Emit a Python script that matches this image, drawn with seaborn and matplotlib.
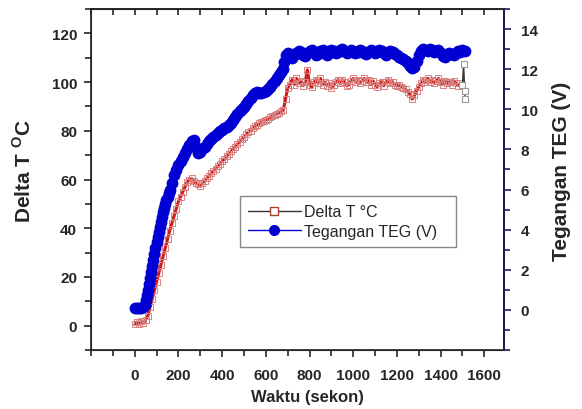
import numpy as np
import pandas as pd
import seaborn as sns
import matplotlib.ticker as mticker
from matplotlib import pyplot as plt
from matplotlib.lines import Line2D

sns.set_style("ticks")
plt.rcParams["font.family"] = ["Liberation Sans", "DejaVu Sans"]
plt.rcParams["font.weight"] = "bold"
plt.rcParams["mathtext.fontset"] = "custom"
plt.rcParams["mathtext.rm"] = "Liberation Sans"
plt.rcParams["mathtext.bf"] = "Liberation Sans:bold"

# data (every 10 s, every 5 s where the voltage climbs fast)
waktu_v = [0, 10, 20, 30, 40, 45, 50, 55, 60, 65, 70, 75, 80, 85, 90, 95, 100, 105, 110, 115,
           120, 125, 130, 135, 140, 145, 150, 155, 160, 170, 180, 190,
           200, 210, 220, 230, 240, 250, 260, 270, 280, 290, 300, 310, 320, 330, 340, 350, 360, 370,
           380, 390, 400, 410, 420, 430, 440, 450, 460, 470, 480, 490, 500, 510, 520, 530, 540, 550,
           560, 570, 580, 590, 600, 610, 620, 630, 640, 650, 660, 670, 680, 685, 690, 700, 710, 720, 730,
           740, 750, 760, 770, 780, 790, 800, 810, 820, 830, 840, 850, 860, 870, 880, 890, 900, 910,
           920, 930, 940, 950, 960, 970, 980, 990, 1000, 1010, 1020, 1030, 1040, 1050, 1060, 1070,
           1080, 1090, 1100, 1110, 1120, 1130, 1140, 1150, 1160, 1170, 1180, 1190, 1200, 1210, 1220,
           1230, 1240, 1250, 1260, 1270, 1280, 1290, 1300, 1310, 1320, 1330, 1340, 1350, 1360, 1370,
           1380, 1390, 1400, 1410, 1420, 1430, 1440, 1450, 1460, 1470, 1480, 1490, 1500, 1510]
tegangan = [0.1, 0.1, 0.1, 0.1, 0.15, 0.25, 0.5, 0.75, 1.0, 1.3, 1.6, 1.9, 2.2, 2.5, 2.8, 3.1, 3.4, 3.65, 3.9, 4.15,
            4.4, 4.65, 4.9, 5.1, 5.3, 5.5, 5.65, 5.85, 6.0, 6.35, 6.7, 6.95,
            7.2, 7.4, 7.6, 7.8, 8.0, 8.2, 8.4, 8.45, 8.1, 7.8, 7.85, 8.0, 8.1, 8.25, 8.4, 8.5, 8.6, 8.7,
            8.8, 8.9, 8.95, 9.05, 9.1, 9.2, 9.3, 9.45, 9.6, 9.75, 9.9, 10.0, 10.1, 10.25, 10.4, 10.55, 10.7, 10.8,
            10.85, 10.8, 10.8, 10.85, 10.9, 11.0, 11.1, 11.25, 11.4, 11.55, 11.7, 11.85, 12.0, 12.35, 12.7, 12.8, 12.6, 12.55, 12.7,
            12.8, 12.9, 12.85, 12.7, 12.65, 12.8, 12.9, 12.95, 12.85, 12.7, 12.75, 12.9, 12.95, 12.8, 12.7, 12.8, 12.95, 12.9,
            12.8, 12.85, 12.95, 13.0, 12.9, 12.8, 12.85, 12.95, 12.9, 12.8, 12.85, 12.95, 12.9, 12.8, 12.75, 12.85,
            12.95, 12.9, 12.8, 12.85, 12.95, 12.9, 12.8, 12.7, 12.8, 12.9, 12.85, 12.75, 12.7, 12.6, 12.55,
            12.5, 12.4, 12.3, 12.15, 12.05, 12.1, 12.4, 12.7, 12.9, 13.0, 12.95, 12.9, 13.0, 12.95, 12.85,
            12.9, 12.95, 12.8, 12.65, 12.6, 12.7, 12.8, 12.75, 12.7, 12.8, 12.9, 12.85, 12.95, 12.9]

waktu_t = [0, 10, 20, 30, 40, 50, 60, 70, 80, 90, 100, 110, 120, 130, 140, 150, 160, 170, 180, 190,
           200, 210, 220, 230, 240, 250, 260, 270, 280, 290, 300, 310, 320, 330, 340, 350, 360, 370,
           380, 390, 400, 410, 420, 430, 440, 450, 460, 470, 480, 490, 500, 510, 520, 530, 540, 550,
           560, 570, 580, 590, 600, 610, 620, 630, 640, 650, 660, 670, 680, 690, 700, 710, 720, 730,
           740, 750, 760, 770, 780, 790, 800, 810, 820, 830, 840, 850, 860, 870, 880, 890, 900, 910,
           920, 930, 940, 950, 960, 970, 980, 990, 1000, 1010, 1020, 1030, 1040, 1050, 1060, 1070,
           1080, 1090, 1100, 1110, 1120, 1130, 1140, 1150, 1160, 1170, 1180, 1190, 1200, 1210, 1220,
           1230, 1240, 1250, 1260, 1270, 1280, 1290, 1300, 1310, 1320, 1330, 1340, 1350, 1360, 1370,
           1380, 1390, 1400, 1410, 1420, 1430, 1440, 1450, 1460, 1470, 1480, 1490, 1500]
delta_t = [0.5, 1.5, 0.5, 2.0, 1.0, 2.5, 4, 7.5, 11, 14.5, 18, 21.5, 25, 28.5, 32, 35.5, 39, 42, 45, 48,
           51, 53, 55, 57, 59, 60, 60.5, 59.5, 58.5, 58, 57.5, 58.5, 59.5, 60.5, 61.5, 62.5, 63.5, 64.5,
           65.5, 66.5, 67.5, 68.5, 69.5, 70.5, 71.5, 72.5, 73.5, 74.5, 75.5, 76.5, 77.5, 78.5, 79.5, 80, 81, 82,
           82.5, 83, 83.5, 84, 84.5, 85, 85.5, 86, 86.5, 87, 87.5, 88, 88.5, 93, 97.5, 99, 101, 99,
           101.5, 99.5, 100.5, 98.5, 100, 105, 99, 98, 100, 101, 99.5, 101.5, 99, 100, 98.5, 99.5, 97.5, 99,
           100, 101, 99.5, 101, 100, 98.5, 99, 100.5, 101.5, 100, 101, 99.5, 100.5, 101.5, 100, 101,
           99, 100.5, 99, 98, 99.5, 100, 98.5, 100, 101, 99.5, 100, 99, 98.5, 99, 98,
           97.5, 97, 96, 95, 93, 94.5, 96.5, 98, 99.5, 101, 100, 101.5, 100, 101, 99.5,
           100.5, 101.5, 100, 99, 100.5, 99.5, 100, 99, 100.5, 99.5, 98.5, 99.5, 99]

# last few readings, drawn with a thin dark trace
waktu_akhir = [1500, 1505, 1510, 1512]
delta_akhir = [99, 107.5, 96.5, 93]

labels = ["Delta T °C", "Tegangan TEG (V)"]
red = "#d01c18"
blue = "#0000d2"
navy = "#1c1c5c"

fig = plt.figure(figsize=(5.82, 4.10), dpi=100)
ax = fig.add_axes([0.1564, 0.1439, 0.7096, 0.8317])

sns.lineplot(x=waktu_t, y=delta_t, ax=ax, color=red, lw=2.2, marker="s", markersize=4.5,
             markerfacecolor="none", markeredgecolor="#d88080", markeredgewidth=0.7,
             estimator=None, sort=False)
sns.lineplot(x=waktu_akhir, y=delta_akhir, ax=ax, color="#333333", lw=1, marker="s",
             markersize=4.5, markerfacecolor="white", markeredgecolor="#999999",
             markeredgewidth=0.8, estimator=None, sort=False)

ax2 = ax.twinx()
sns.lineplot(x=waktu_v, y=tegangan, ax=ax2, color=blue, lw=1, marker="o", markersize=8.5,
             markeredgewidth=0, estimator=None, sort=False)

ax.set_xlim(-200, 1690)
ax.set_ylim(-10, 130)
ax2.set_ylim(-2, 15)

ax.xaxis.set_major_locator(mticker.FixedLocator(range(0, 1601, 200)))
ax.xaxis.set_minor_locator(mticker.MultipleLocator(100))
ax.yaxis.set_major_locator(mticker.MultipleLocator(20))
ax.yaxis.set_minor_locator(mticker.MultipleLocator(10))
ax2.yaxis.set_major_locator(mticker.FixedLocator(range(0, 15, 2)))
ax2.yaxis.set_minor_locator(mticker.MultipleLocator(1))

ax.tick_params(axis="both", which="major", direction="out", length=5, width=1.2,
               labelsize=11, pad=5)
ax.tick_params(axis="x", which="major", pad=8)
ax.tick_params(axis="both", which="minor", direction="out", length=4, width=1.2)
ax2.tick_params(axis="y", which="major", direction="out", length=5, width=1.2,
                color=navy, labelsize=11, pad=7)
ax2.tick_params(axis="y", which="minor", direction="out", length=4, width=1.2, color=navy)

top = ax.secondary_xaxis("top")
top.xaxis.set_major_locator(mticker.FixedLocator(range(-200, 1700, 200)))
top.xaxis.set_minor_locator(mticker.MultipleLocator(100))
top.tick_params(which="both", direction="in", labeltop=False, length=4, width=1.2)
top.spines["top"].set_linewidth(1.2)

for s in ax.spines.values():
    s.set_linewidth(1.2)
    s.set_color("#222222")
ax2.spines["right"].set_color(navy)
ax2.spines["right"].set_linewidth(1.4)

ax.set_xlabel("Waktu (sekon)", fontsize=12, fontweight="bold")
ax.xaxis.set_label_coords(0.524, -0.115)
ax.set_ylabel(r"Delta T $^{\mathbf{O}}$C", fontsize=15, fontweight="bold")
ax.yaxis.set_label_coords(-0.136, 0.529)
ax2.set_ylabel("Tegangan TEG (V)", fontsize=15, fontweight="bold")
ax2.yaxis.set_label_coords(1.116, 0.526)

h1 = Line2D([], [], color="#333333", lw=1, marker="s", markersize=6,
            markerfacecolor="white", markeredgecolor="#a8402e")
h2 = Line2D([], [], color=blue, lw=1, marker="o", markersize=8, markeredgewidth=0)
ax2.legend([h1, h2], labels, loc="lower left", bbox_to_anchor=(0.361, 0.302, 0.523, 0.161),
           mode="expand", borderaxespad=0, fancybox=False, edgecolor="#888888", framealpha=1,
           prop={"weight": "normal", "size": 11.5}, handlelength=3.3, handletextpad=0.2,
           borderpad=0.5, labelspacing=0.3)

plt.savefig("out.png", dpi=100)
plt.close()
